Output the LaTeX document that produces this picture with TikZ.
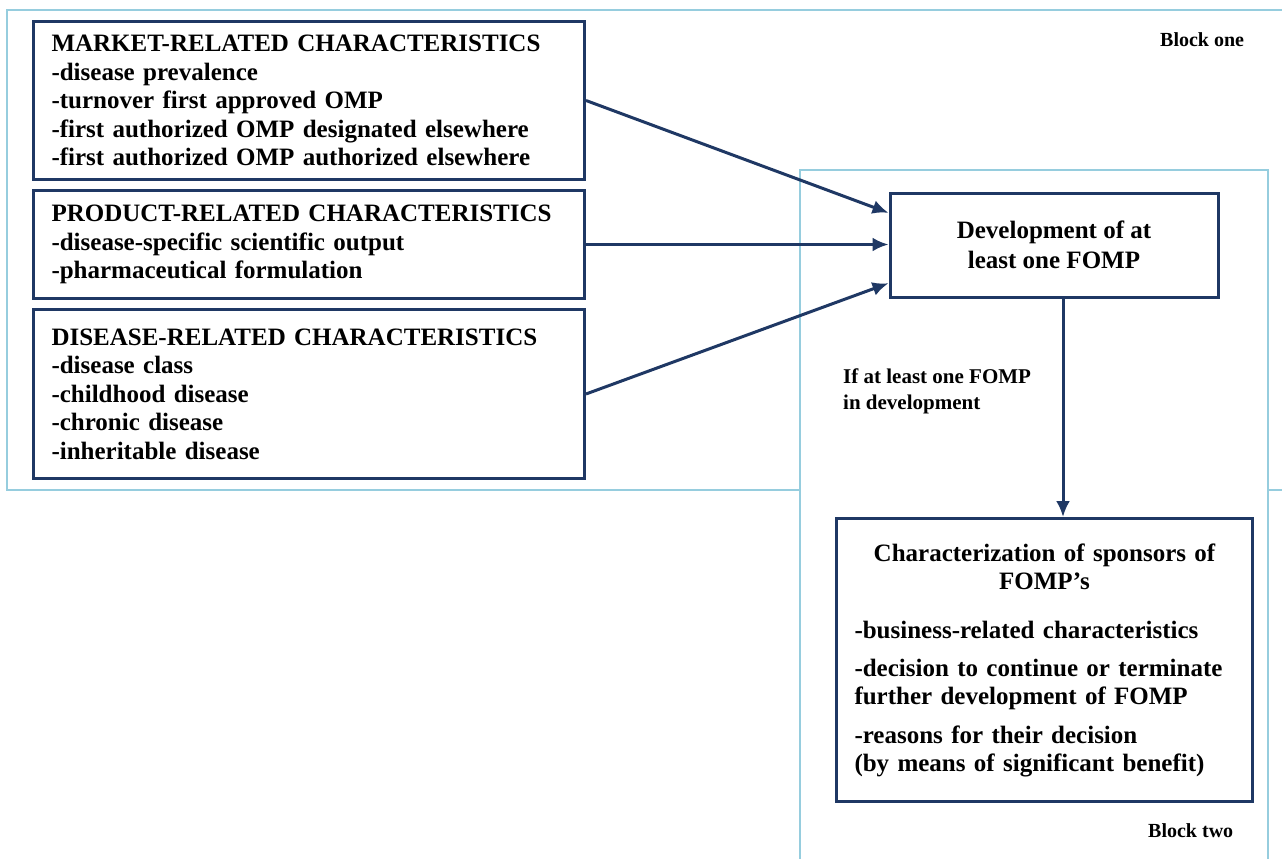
\documentclass[tikz,border=0pt]{standalone}
\usepackage{fontspec}
\setmainfont{Liberation Serif}
\usetikzlibrary{arrows.meta,positioning}
\definecolor{navy}{RGB}{31,56,100}
\definecolor{frameblue}{RGB}{150,205,222}
\tikzset{
	blockframe/.style={draw=frameblue,line width=2pt},
	charbox/.style={draw=navy,line width=3pt,fill=white,inner xsep=18pt,inner ysep=0pt,
		font=\bfseries\fontsize{25}{28.5}\selectfont},
	leftbox/.style={charbox,anchor=north west,minimum width=551pt,text width=515pt,align=left},
	flow/.style={draw=navy,line width=3pt,-{Latex[length=16pt,width=14pt]}},
	blocklabel/.style={anchor=base west,inner sep=0pt,font=\bfseries\fontsize{20}{24}\selectfont},
}
\begin{document}
\begin{tikzpicture}[x=1pt,y=-1pt]
	\useasboundingbox (0,0) rectangle (1282,859);
	% the two blocks
	\draw[blockframe] (7,10) rectangle (1300,490);
	\draw[blockframe,fill=white] (800,170) rectangle (1268,900);
	\node[blocklabel] (blockone) at (1160,47) {Block one};
	\node[blocklabel] (blocktwo) at (1148,837) {Block two};
	% characteristics
	\node[leftbox,minimum height=158pt] (market) at (32,20) {MARKET-RELATED CHARACTERISTICS\\-disease prevalence\\-turnover first approved OMP\\-first authorized OMP designated elsewhere\\-first authorized OMP authorized elsewhere};
	\node[leftbox,minimum height=108pt] (product) at (32,189) {PRODUCT-RELATED CHARACTERISTICS\\-disease-specific scientific output\\-pharmaceutical formulation};
	\node[leftbox,minimum height=169pt] (disease) at (32,308) {DISEASE-RELATED CHARACTERISTICS\\-disease class\\-childhood disease\\-chronic disease\\-inheritable disease};
	\node[charbox,minimum width=328pt,minimum height=104pt,align=center,
		font=\bfseries\fontsize{25}{30}\selectfont] (develop) at (1054,245) {Development of at\\least one FOMP};
	\node[charbox,anchor=north west,minimum width=416pt,minimum height=283pt,text width=380pt,align=left,
		font=\bfseries\fontsize{25}{28}\selectfont] (sponsors) at (835,517)
		{\makebox[380pt]{Characterization of sponsors of}\\\makebox[380pt]{FOMP’s}\\[21pt]-business-related characteristics\\[10pt]-decision to continue or terminate\\further development of FOMP\\[11pt]-reasons for their decision\\(by means of significant benefit)};
	\node[anchor=north west,inner sep=0pt,align=left,font=\bfseries\fontsize{21}{26}\selectfont] (cond) at (843,369) {If at least one FOMP\\in development};
	% arrows
	\draw[flow] (market.east) -- (develop.169);
	\draw[flow] (product.east) -- (product.east -| develop.west);
	\draw[flow] (disease.east) -- (develop.193);
	\draw[flow] ([xshift=9pt]develop.south) -- ([xshift=9pt]develop.south |- sponsors.north);
\end{tikzpicture}
\end{document}
